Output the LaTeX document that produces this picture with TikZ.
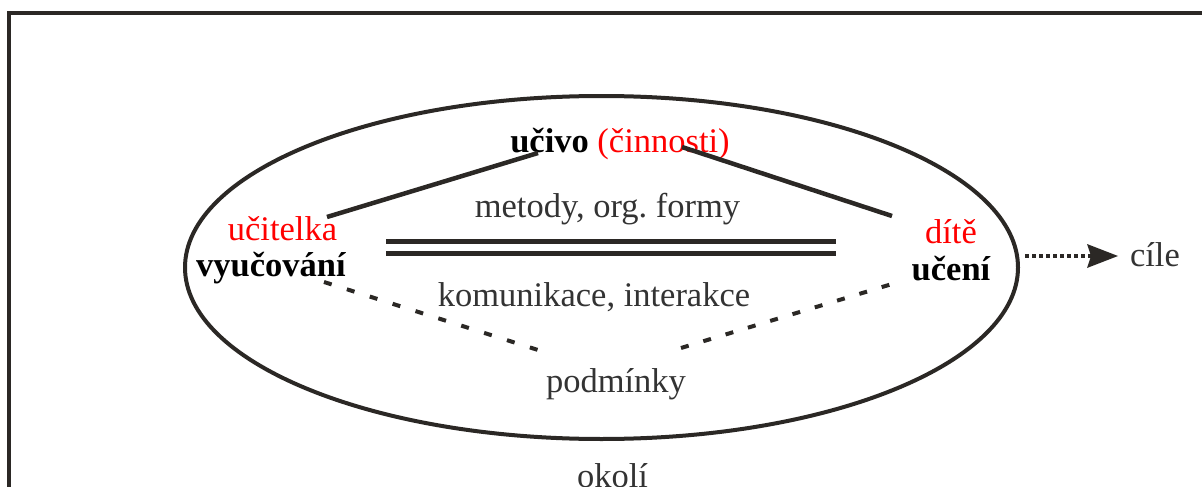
\documentclass[tikz,border=0pt]{standalone}
\usepackage{fontspec}
\setmainfont{Liberation Serif}
\usetikzlibrary{arrows.meta}
\definecolor{ink}{HTML}{2B2825}
\definecolor{softink}{HTML}{333333}
\frenchspacing
\begin{document}
\begin{tikzpicture}[x=1pt,y=-1pt,
  every node/.style={inner sep=0pt,outer sep=0pt,anchor=base,font=\fontsize{34.5}{40}\selectfont},
  boldlabel/.style={font=\fontsize{34.5}{40}\selectfont\bfseries,text=black},
  redlabel/.style={text=red},
  greylabel/.style={text=softink},
  solidlink/.style={draw=ink,line width=4.5pt},
  dashlink/.style={draw=ink,line width=4pt,dash pattern=on 8pt off 16pt},
  railline/.style={draw=ink,line width=4.7pt},
  frameline/.style={draw=ink,line width=4pt}]
\useasboundingbox (0,0) rectangle (1202,487);
\begin{scope}
\clip (0,0) rectangle (1202,487);
% outer frame (top and left edges)
\draw[frameline] (7,13) -- (1210,13);
\draw[frameline] (9,11) -- (9,495);

% the enclosing ellipse
\draw[draw=ink,line width=4pt] (601.5,267.5) ellipse [x radius=416.5pt, y radius=171.5pt];

% labels
\node (ucivo) at (620,152) {\textbf{učivo} \textcolor{red}{(činnosti)}};
\node[greylabel] (metody) at (607.5,217) {metody, org. formy};
\node[greylabel] (komunikace) at (594,306) {komunikace, interakce};
\node[redlabel] (ucitelka) at (282.5,240) {učitelka};
\node[boldlabel] (vyucovani) at (271,276) {vyučování};
\node[redlabel] (dite) at (951,243) {dítě};
\node[boldlabel] (uceni) at (951,280) {učení};
\node[greylabel,anchor=base west] (cile) at (1130,266) {cíle};
\node[greylabel] (podminky) at (616,392) {podmínky};
\node[greylabel] (okoli) at (612.5,487) {okolí};

% connector end points
\coordinate (ucitelkaEnd) at (327,217);
\coordinate (ucivoL) at (538,153);
\coordinate (ucivoR) at (682,147);
\coordinate (diteEnd) at (892,216);
\coordinate (vyucEnd) at (324,282);
\coordinate (podmL) at (538,350);
\coordinate (podmR) at (681,348);
\coordinate (uceniEnd) at (892,284);
\coordinate (railA1) at (386,241.3);
\coordinate (railB1) at (836,241.3);
\coordinate (railA2) at (386,253.3);
\coordinate (railB2) at (836,253.3);
\coordinate (ellR) at (1025,256);
\coordinate (cileTip) at (1118,256);

% solid links to the subject matter
\draw[solidlink] (ucitelkaEnd) -- (ucivoL);
\draw[solidlink] (ucivoR) -- (diteEnd);

% double rail between teaching and learning
\draw[railline] (railA1) -- (railB1);
\draw[railline] (railA2) -- (railB2);

% dashed links to conditions
\draw[dashlink] (vyucEnd) -- (podmL);
\draw[dashlink,dash pattern=on 8pt off 15.3pt] (podmR) -- (uceniEnd);

% dotted arrow towards the goals
\draw[draw=ink,line width=4pt,dash pattern=on 4pt off 3pt,
      -{Stealth[length=31pt,width=24pt,inset=4pt,fill=ink,line width=0pt,sep=0pt]}]
      (ellR) -- (cileTip);
\end{scope}
\end{tikzpicture}
\end{document}
